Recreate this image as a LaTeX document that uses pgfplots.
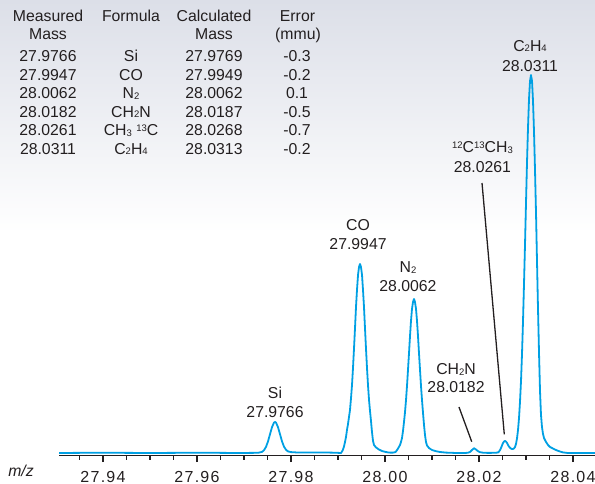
\documentclass[border=0pt]{standalone}
\usepackage{pgfplots}
\pgfplotsset{compat=1.18}
\usepackage{fontspec}
\setmainfont{Liberation Sans}
\definecolor{specblue}{RGB}{0,160,227}
\definecolor{txt}{RGB}{35,31,32}
\definecolor{bgtop}{RGB}{220,223,232}
\newcommand{\tf}{\fontsize{15.8}{19}\selectfont}
\newcommand{\lsub}[1]{\raisebox{-0.6pt}{\fontsize{9.5}{10}\selectfont #1}}
\newcommand{\lsup}[1]{\raisebox{4.6pt}{\fontsize{9.5}{10}\selectfont #1}}
\begin{document}
\begin{tikzpicture}[x=1pt,y=1pt]
\path[use as bounding box] (0,0) rectangle (595,483);
\shade[top color=bgtop, bottom color=white] (0,250) rectangle (595,483);
\begin{scope}[every node/.style={anchor=base, inner sep=0pt, text=txt, font=\tf}]
\node at (48,461.6) {Measured};
\node at (131,461.6) {Formula};
\node at (214,461.6) {Calculated};
\node at (297.5,461.6) {Error};
\node at (48,443) {Mass};
\node at (214,443) {Mass};
\node at (298,443) {(mmu)};
% rows
\node at (48,421.3) {27.9766}; \node at (131,421.3) {Si}; \node at (214,421.3) {27.9769}; \node at (297,421.3) {-0.3};
\node at (48,402.8) {27.9947}; \node at (131,402.8) {CO}; \node at (214,402.8) {27.9949}; \node at (297,402.8) {-0.2};
\node at (48,384.3) {28.0062}; \node at (131,384.3) {N\lsub{2}}; \node at (214,384.3) {28.0062}; \node at (297,384.3) {0.1};
\node at (48,365.8) {28.0182}; \node at (131,365.8) {CH\lsub{2}N}; \node at (214,365.8) {28.0187}; \node at (297,365.8) {-0.5};
\node at (48,347.3) {28.0261}; \node at (131,347.3) {CH\lsub{3} \lsup{13}C}; \node at (214,347.3) {28.0268}; \node at (297,347.3) {-0.7};
\node at (48,328.8) {28.0311}; \node at (131,328.8) {C\lsub{2}H\lsub{4}}; \node at (214,328.8) {28.0313}; \node at (297,328.8) {-0.2};
\node at (21,7) {\itshape m/z};
\end{scope}
\begin{axis}[at={(59pt,27.5pt)}, anchor=south west, scale only axis,
  width=536pt, height=455.5pt,
  xmin=27.930638, xmax=28.044681, ymin=-2.5, ymax=453,
  axis y line=none, axis x line=bottom,
  axis line style={-, line width=1.4pt, color=txt},
  xtick={27.94,27.96,27.98,28.00,28.02,28.04},
  xticklabels={27.94,27.96,27.98,28.00,28.02,28.04},
  minor xtick={27.935,27.945,27.95,27.955,27.965,27.97,27.975,27.985,27.99,27.995,28.005,28.01,28.015,28.025,28.03,28.035},
  xtick align=outside, major tick length=6.7pt, minor tick length=4.3pt,
  tick style={line width=1.3pt, color=txt},
  xticklabel style={font={\fontsize{16}{19}\selectfont\addfontfeatures{LetterSpace=8}}, text=txt, anchor=base, inner sep=0pt, yshift=-20.5pt},
  clip=false]
\addplot[specblue, line width=1.8pt, line join=round, mark=none] coordinates {
(27.93064,0) (27.93936,0.3) (27.95000,0) (27.96064,0.3) (27.96915,0) (27.97298,0.2)
(27.97383,1.1) (27.97426,2.8) (27.97468,6.1) (27.97511,11.6) (27.97553,18.8) (27.97596,25.9) (27.97638,30.4) (27.97660,31) (27.97681,30.4) (27.97723,25.9) (27.97766,18.8) (27.97809,11.6) (27.97851,6.3) (27.97894,3.2) (27.97936,1.6) (27.98000,0.9) (27.98106,0.6) (27.98404,0.5) (27.98723,0.5) (27.98936,0.3)
(27.99064,0) (27.99085,1.5) (27.99106,3.4) (27.99128,6.6) (27.99149,11) (27.99170,16) (27.99191,23) (27.99213,29) (27.99234,36) (27.99255,43) (27.99277,55) (27.99298,68) (27.99319,85) (27.99340,104) (27.99362,125) (27.99383,146) (27.99404,163) (27.99426,178) (27.99447,186) (27.99468,189) (27.99489,186) (27.99511,178) (27.99532,163) (27.99553,146) (27.99574,125) (27.99596,104) (27.99617,85) (27.99638,68) (27.99660,53) (27.99681,42) (27.99702,32) (27.99723,21) (27.99745,12) (27.99766,8) (27.99809,5.5) (27.99872,3.5) (27.99936,2) (28.00000,1.2) (28.00064,0.6) (28.00106,0.4)
(28.00170,0.4) (28.00213,0.8) (28.00234,1.5) (28.00277,4.5) (28.00319,8) (28.00340,11) (28.00362,15) (28.00383,22) (28.00404,31) (28.00426,41) (28.00447,53) (28.00468,67) (28.00489,83) (28.00511,100) (28.00532,117) (28.00553,132) (28.00574,144) (28.00596,151) (28.00617,154) (28.00638,151) (28.00660,144) (28.00681,132) (28.00702,117) (28.00723,100) (28.00745,83) (28.00766,67) (28.00787,53) (28.00809,40) (28.00830,28) (28.00851,18) (28.00872,11) (28.00894,7.5) (28.00936,5) (28.01000,3) (28.01085,1.8) (28.01170,1) (28.01298,0.4) (28.01468,0.1) (28.01638,0) (28.01723,0.1)
(28.01766,0.3) (28.01809,1) (28.01851,3) (28.01894,4.8) (28.01936,3.5) (28.01979,1.8) (28.02021,0.8) (28.02085,0.3) (28.02191,0.1) (28.02340,0.2)
(28.02404,0.5) (28.02426,1.5) (28.02447,3) (28.02468,5) (28.02489,7.5) (28.02511,10) (28.02532,11.5) (28.02553,12) (28.02574,11.5) (28.02596,10) (28.02617,8) (28.02638,6.5) (28.02660,5.2) (28.02681,4.4) (28.02702,4) (28.02723,4) (28.02745,4.6) (28.02766,6)
(28.02787,9) (28.02809,14.7) (28.02830,23) (28.02851,34.8) (28.02872,51) (28.02894,72.2) (28.02915,99) (28.02936,131.2) (28.02957,168.2) (28.02979,208.7) (28.03000,250) (28.03021,290) (28.03043,325.8) (28.03064,353.8) (28.03085,371.8) (28.03106,378) (28.03128,372) (28.03149,352) (28.03170,322) (28.03191,284) (28.03213,240) (28.03234,192) (28.03255,145) (28.03277,100) (28.03298,62) (28.03319,38) (28.03340,26) (28.03362,19) (28.03383,15) (28.03404,13) (28.03426,11) (28.03468,8) (28.03511,6) (28.03574,4.5) (28.03638,3) (28.03702,1.8) (28.03787,0.6) (28.03872,0.1) (28.04468,0)
};
\begin{scope}[every node/.style={anchor=base, inner sep=0pt, text=txt, font=\tf}]
\node at (axis cs:27.97660,54.3) {Si};
\node at (axis cs:27.97660,35.3) {27.9766};
\node at (axis cs:27.99426,222.3) {CO};
\node at (axis cs:27.99426,203.3) {27.9947};
\node at (axis cs:28.00489,180.3) {N\lsub{2}};
\node at (axis cs:28.00489,161.3) {28.0062};
\node at (axis cs:28.01511,78.3) {CH\lsub{2}N};
\node at (axis cs:28.01511,60.3) {28.0182};
\node at (axis cs:28.02074,300.3) {\lsup{12}C\lsup{13}CH\lsub{3}};
\node at (axis cs:28.02074,280.3) {28.0261};
\node at (axis cs:28.03085,401.8) {C\lsub{2}H\lsub{4}};
\node at (axis cs:28.03085,381.3) {28.0311};
\end{scope}
\draw[txt, line width=1.3pt] (axis cs:28.01574,46) -- (axis cs:28.01845,11.3);
\draw[txt, line width=1.3pt] (axis cs:28.02064,270) -- (axis cs:28.02538,18.7);
\end{axis}
\end{tikzpicture}
\end{document}
